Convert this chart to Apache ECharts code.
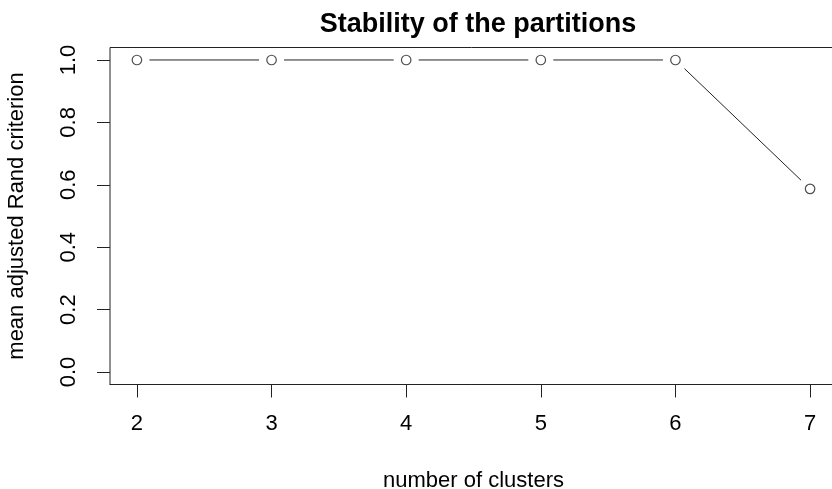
<!DOCTYPE html>
<html>
<head>
<meta charset="utf-8">
<script src="https://cdn.jsdelivr.net/npm/echarts@6/dist/echarts.min.js"></script>
<style>html,body{margin:0;padding:0;background:#fff}#c{width:832px;height:489px}</style>
</head>
<body>
<div id="c"></div>
<script>
const clusters = [2, 3, 4, 5, 6, 7];
const meanRand = [1.0, 1.0, 1.0, 1.0, 1.0, 0.587];
const xTicks = [2, 3, 4, 5, 6, 7];
const yTicks = [0, 0.2, 0.4, 0.6, 0.8, 1.0];

const FONT = "'Liberation Sans', Arial, sans-serif";
const segs = clusters.slice(1).map((c, i) => [clusters[i], meanRand[i], c, meanRand[i + 1]]);
const pts = clusters.map((c, i) => [c, meanRand[i]]);

const chart = echarts.init(document.getElementById('c'), null, {renderer: 'canvas'});
chart.setOption({
  animation: false,
  backgroundColor: '#fff',
  title: {
    text: 'Stability of the partitions',
    left: 473, top: 6, textAlign: 'center',
    textStyle: {fontFamily: FONT, fontWeight: 'bold', fontSize: 27, color: '#000'}
  },
  grid: {
    show: true, left: 110, top: 47.5, width: 727, height: 337,
    outerBoundsMode: 'none', containLabel: false,
    borderColor: '#222', borderWidth: 1, backgroundColor: 'transparent'
  },
  xAxis: {
    type: 'value', min: 1.8, max: 7.2, position: 'bottom',
    name: 'number of clusters', nameLocation: 'middle', nameGap: 85,
    nameTextStyle: {fontFamily: FONT, fontSize: 22, color: '#000'},
    axisLine: {show: true, onZero: false, lineStyle: {color: '#222', width: 1}},
    axisTick: {show: true, inside: false, length: 13, customValues: xTicks, lineStyle: {color: '#222', width: 1}},
    axisLabel: {customValues: xTicks, margin: 28, fontFamily: FONT, fontSize: 22, color: '#000'},
    splitLine: {show: false}
  },
  yAxis: {
    type: 'value', min: -0.04, max: 1.04,
    name: 'mean adjusted Rand criterion', nameLocation: 'middle', nameGap: 82,
    nameTextStyle: {fontFamily: FONT, fontSize: 22, color: '#000'},
    axisLine: {show: false},
    axisTick: {show: true, inside: false, length: 13, customValues: yTicks, lineStyle: {color: '#222', width: 1}},
    axisLabel: {customValues: yTicks, rotate: 90, margin: 30, fontFamily: FONT, fontSize: 22, color: '#000',
      formatter: v => v.toFixed(1)},
    splitLine: {show: false}
  },
  series: [
    {
      type: 'custom',
      data: segs,
      encode: {x: [0, 2], y: [1, 3]},
      renderItem: function (params, api) {
        const p1 = api.coord([api.value(0), api.value(1)]);
        const p2 = api.coord([api.value(2), api.value(3)]);
        const dx = p2[0] - p1[0], dy = p2[1] - p1[1];
        const len = Math.sqrt(dx * dx + dy * dy);
        const gap = 12.5;
        if (len <= 2 * gap) return null;
        const ux = dx / len, uy = dy / len;
        return {
          type: 'line',
          shape: {x1: p1[0] + ux * gap, y1: p1[1] + uy * gap, x2: p2[0] - ux * gap, y2: p2[1] - uy * gap},
          style: {stroke: '#222', lineWidth: 1}
        };
      },
      z: 2
    },
    {
      type: 'scatter',
      data: pts,
      symbol: 'circle', symbolSize: 9.5,
      itemStyle: {color: '#fff', borderColor: '#222', borderWidth: 1.2},
      z: 3
    }
  ]
});
</script>
</body>
</html>
